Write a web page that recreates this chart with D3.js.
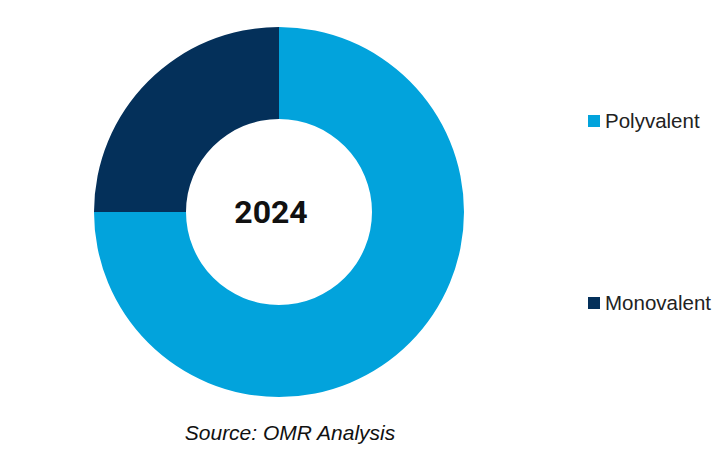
<!DOCTYPE html>
<html>
<head>
<meta charset="utf-8">
<script src="https://cdn.jsdelivr.net/npm/d3@7"></script>
<style>
  body { margin: 0; background: #fff; }
</style>
</head>
<body>
<div id="chart"></div>
<script>
// Segment data (share in %)
const segments = ["Polyvalent", "Monovalent"];
const shares = [75, 25];
const colors = ["#02a3dc", "#04305a"];
const yearLabel = "2024";
const sourceLabel = "Source: OMR Analysis";

const width = 719;
const height = 469;
const cx = 279, cy = 212;
const outerR = 185, innerR = 93;

const svg = d3.select("#chart")
    .append("svg")
    .attr("width", width)
    .attr("height", height);

const color = d3.scaleOrdinal().domain(segments).range(colors);

const pie = d3.pie().sort(null).value(d => d.value);
const arc = d3.arc().innerRadius(innerR).outerRadius(outerR);

const data = segments.map((s, i) => ({name: s, value: shares[i]}));

// donut
const donut = svg.append("g")
    .attr("transform", `translate(${cx}, ${cy})`);
donut.selectAll("path")
    .data(pie(data))
    .join("path")
    .attr("d", arc)
    .attr("fill", d => color(d.data.name));

// year in the hole
svg.append("text")
    .attr("x", 271)
    .attr("y", cy)
    .attr("dy", "0.35em")
    .attr("text-anchor", "middle")
    .attr("font-family", "Roboto, 'Liberation Sans', sans-serif")
    .attr("font-weight", "bold")
    .attr("font-size", "32px")
    .attr("fill", "#111")
    .text(yearLabel);

// legend
const legendY = d3.scalePoint().domain(segments).range([121, 303]);
const legend = svg.append("g");
const item = legend.selectAll("g")
    .data(segments)
    .join("g")
    .attr("transform", d => `translate(588, ${legendY(d)})`);
item.append("rect")
    .attr("x", 0)
    .attr("y", -6)
    .attr("width", 12)
    .attr("height", 12)
    .attr("fill", d => color(d));
item.append("text")
    .attr("x", 17)
    .attr("y", 0)
    .attr("dy", "0.35em")
    .attr("font-family", "'Liberation Sans', Arial, sans-serif")
    .attr("font-size", "20.5px")
    .attr("fill", "#222")
    .text(d => d);

// source
svg.append("text")
    .attr("x", 290)
    .attr("y", 440)
    .attr("text-anchor", "middle")
    .attr("font-family", "'Liberation Sans', Arial, sans-serif")
    .attr("font-style", "italic")
    .attr("font-size", "21px")
    .attr("fill", "#111")
    .text(sourceLabel);
</script>
</body>
</html>
